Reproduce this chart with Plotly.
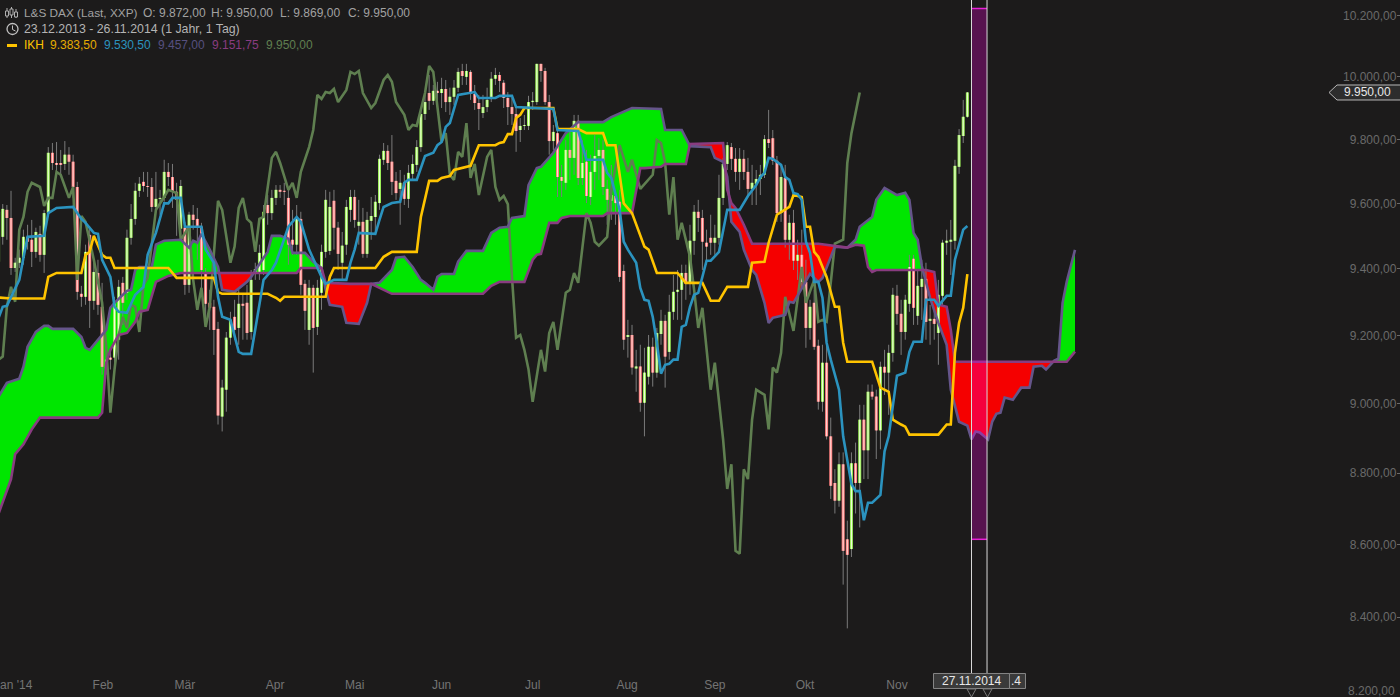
import numpy as np
import plotly.graph_objects as go

W, H = 1400, 697
OPEN = [9421,9497,9580,9555,9402,9418,9433,9497,9488,9451,
9506,9442,9570,9758,9726,9726,9723,9752,9730,9651,
9324,9315,9503,9303,9387,9285,9102,9134,9134,9187,
9357,9327,9494,9552,9639,9667,9654,9651,9589,9614,
9617,9698,9682,9636,9522,9525,9351,9565,9552,9528,
9384,9297,9285,9219,8962,9040,9193,9255,9222,9294,
9297,9210,9387,9390,9396,9595,9570,9617,9642,9639,
9617,9488,9473,9552,9354,9216,9342,9225,9327,9451,
9454,9608,9525,9418,9473,9580,9620,9531,9543,9445,
9546,9558,9601,9736,9764,9730,9670,9645,9664,9614,
9692,9720,9776,9881,9948,9923,9955,9948,9961,9919,
9936,9965,10019,10000,10016,9945,9916,9884,9903,9932,
9994,10006,9981,9932,9903,9881,9830,9843,9843,9919,
9919,10042,10019,9919,9795,9820,9682,9664,9767,9742,
9859,9679,9730,9620,9698,9748,9767,9645,9608,9623,
9605,9393,9195,9201,9102,9108,9002,9078,9166,9090,
9204,9243,9151,9270,9330,9336,9387,9357,9485,9574,
9555,9479,9494,9479,9494,9617,9723,9776,9739,9698,
9739,9698,9645,9661,9676,9689,9801,9804,9733,9570,
9679,9488,9540,9424,9442,9360,9222,9297,9169,9005,
9119,8905,8772,8722,8825,8614,8587,8828,8772,8953,
8865,9034,9020,8922,9107,9090,9148,9318,9264,9210,
9294,9430,9258,9345,9369,9243,9249,9207,9318,9479,
9482,9485,9714,9811,9872]
HIGH = [9595,9598,9595,9639,9433,9458,9519,9534,9549,9525,
9531,9580,9776,9789,9792,9767,9795,9776,9752,9667,
9348,9473,9528,9421,9427,9357,9157,9157,9315,9366,
9375,9519,9598,9664,9682,9698,9698,9679,9698,9642,
9736,9726,9723,9664,9673,9543,9574,9595,9586,9540,
9402,9336,9306,9240,9069,9210,9270,9306,9336,9321,
9351,9396,9418,9473,9595,9626,9642,9657,9657,9664,
9642,9580,9595,9574,9366,9366,9351,9366,9473,9642,
9636,9642,9543,9512,9611,9642,9642,9611,9586,9574,
9620,9626,9752,9789,9782,9814,9698,9704,9689,9720,
9752,9798,9900,9942,10006,9974,9984,9997,9990,9965,
9990,10029,10042,10042,10022,9974,9942,9942,9965,10016,
10029,10016,9990,9951,9932,9900,9868,9878,9939,9951,
10042,10042,10029,9942,9846,9846,9720,9798,9830,9878,
9878,9798,9767,9752,9814,9804,9798,9673,9720,9642,
9642,9412,9246,9231,9157,9172,9163,9201,9193,9222,
9276,9261,9321,9381,9396,9412,9412,9534,9595,9611,
9580,9519,9565,9534,9689,9742,9792,9789,9773,9773,
9767,9742,9720,9704,9720,9814,9894,9830,9748,9720,
9720,9565,9580,9488,9519,9427,9306,9336,9187,9172,
9187,8959,8811,8859,8859,8666,8859,8887,8996,8996,
9055,9055,9040,9122,9157,9172,9342,9351,9306,9321,
9442,9442,9396,9427,9418,9291,9276,9366,9488,9519,
9549,9736,9833,9926,9950]
LOW = [9396,9473,9488,9381,9390,9402,9412,9458,9405,9433,
9421,9387,9558,9704,9689,9689,9704,9689,9617,9306,
9285,9291,9222,9276,9261,9084,9084,9099,9113,9128,
9231,9306,9473,9534,9620,9636,9620,9574,9574,9565,
9605,9654,9586,9500,9503,9321,9327,9519,9427,9336,
9231,9216,9142,8939,8919,8976,9172,9187,9172,9187,
9187,9187,9366,9366,9381,9534,9549,9595,9617,9595,
9412,9442,9442,9321,9216,9172,9090,9201,9276,9433,
9442,9458,9396,9366,9442,9543,9525,9473,9433,9433,
9488,9512,9580,9720,9704,9626,9611,9534,9595,9586,
9673,9698,9761,9862,9894,9910,9910,9900,9887,9878,
9910,9951,9974,9974,9926,9894,9830,9868,9887,9919,
9974,9951,9900,9846,9846,9761,9792,9830,9830,9894,
9910,9984,9910,9752,9767,9620,9620,9642,9673,9689,
9657,9657,9601,9595,9642,9673,9626,9534,9549,9534,
9360,9157,9134,9084,9034,8976,8905,9055,9049,9075,
9172,9046,9128,9246,9246,9246,9306,9321,9442,9512,
9396,9412,9442,9442,9473,9595,9704,9704,9667,9642,
9673,9626,9595,9595,9626,9679,9773,9720,9543,9543,
9464,9427,9396,9366,9336,9163,9187,9157,8982,8976,
8896,8727,8686,8705,8489,8370,8565,8686,8647,8783,
8783,9011,8840,8868,9025,8967,9122,9231,9142,9187,
9270,9231,9231,9246,9187,9172,9187,9113,9291,9442,
9381,9458,9692,9789,9869]
CLOSE = [9574,9583,9555,9402,9418,9433,9497,9482,9451,9512,
9442,9570,9758,9726,9720,9720,9752,9730,9651,9330,
9315,9451,9303,9390,9291,9107,9128,9128,9297,9345,
9297,9494,9552,9639,9661,9654,9651,9589,9614,9617,
9698,9682,9636,9611,9654,9351,9565,9549,9528,9396,
9294,9282,9216,8965,9046,9193,9246,9216,9294,9288,
9207,9366,9399,9448,9574,9570,9617,9642,9636,9636,
9473,9473,9555,9351,9273,9342,9222,9342,9451,9611,
9589,9525,9445,9470,9589,9620,9549,9543,9445,9549,
9561,9605,9739,9764,9726,9667,9632,9664,9614,9695,
9723,9776,9881,9919,9923,9955,9948,9961,9919,9936,
9965,10016,10003,10019,9945,9916,9897,9903,9926,9994,
10006,9987,9932,9903,9881,9827,9843,9846,9919,9923,
10042,10019,9919,9795,9824,9682,9670,9767,9742,9859,
9679,9726,9623,9698,9748,9767,9651,9611,9626,9601,
9375,9187,9201,9105,9108,9002,9090,9166,9090,9207,
9243,9137,9270,9330,9336,9387,9354,9485,9574,9555,
9482,9467,9479,9494,9617,9723,9782,9739,9698,9739,
9698,9645,9664,9676,9689,9801,9789,9733,9570,9682,
9488,9540,9424,9442,9360,9222,9285,9166,9005,9119,
8905,8764,8722,8825,8582,8571,8828,8772,8953,8865,
9034,9020,8922,9107,9090,9148,9321,9264,9210,9306,
9405,9282,9348,9369,9240,9249,9234,9321,9479,9485,
9488,9717,9814,9872,9950]

TENKAN_BAR = [0,3,11,12,13,14,20,21,22,23,25,26,27,28,41,43,52,53,54,65,66,67,68,69,79,80,81,91,93,95,101,102,104,106,107,109,110,112,114,116,120,121,122,123,124,125,126,127,134,135,140,142,146,147,149,151,153,156,157,159,164,166,170,172,174,176,181,182,185,186,188,191,192,194,195,196,197,198,200,202,203,204,205,211,213,215,216,218,219,220,227,229,230,231,232,233,234]
TENKAN = [9313,9310,9310,9375,9381,9387,9387,9442,9451,9500,9442,9433,9433,9402,9402,9372,9372,9330,9324,9324,9318,9312,9303,9315,9315,9375,9402,9402,9436,9451,9451,9558,9670,9670,9679,9685,9704,9710,9717,9782,9782,9789,9792,9817,9817,9868,9878,9900,9900,9833,9833,9820,9820,9782,9782,9600,9570,9467,9458,9387,9387,9357,9357,9303,9303,9345,9345,9418,9421,9479,9565,9589,9626,9620,9528,9528,9451,9436,9375,9285,9285,9178,9122,9122,9046,9034,8953,8939,8933,8910,8910,8939,8939,9148,9237,9282,9383.5]

KIJUN_BAR = [0,1,2,3,5,6,7,11,12,14,18,20,21,23,24,25,27,28,29,31,33,35,36,38,40,41,42,44,45,49,50,52,53,54,56,58,59,61,62,64,66,67,70,72,73,75,78,79,81,84,85,86,87,91,92,93,95,97,98,99,101,103,105,106,107,108,109,111,115,116,120,121,124,125,134,135,140,142,146,147,148,150,151,152,154,155,156,157,158,159,160,161,162,163,164,165,166,167,168,169,171,172,174,176,179,181,183,184,185,186,187,189,190,191,192,193,194,195,196,197,198,199,200,201,203,204,206,207,208,209,210,211,213,214,215,217,219,220,221,223,224,226,227,229,230,231,233,234]
KIJUN = [9252,9285,9288,9315,9366,9433,9497,9500,9570,9586,9589,9552,9540,9509,9506,9427,9375,9285,9270,9267,9321,9345,9442,9509,9600,9600,9617,9617,9528,9528,9458,9418,9315,9255,9246,9151,9145,9145,9216,9366,9396,9418,9528,9558,9543,9458,9375,9354,9366,9366,9418,9458,9509,9506,9549,9589,9601,9605,9664,9673,9673,9748,9758,9782,9792,9840,9852,9942,9951,9932,9932,9939,9939,9903,9897,9830,9827,9736,9736,9695,9679,9580,9482,9458,9418,9342,9306,9303,9255,9178,9087,9113,9116,9128,9128,9225,9231,9285,9321,9327,9424,9424,9451,9580,9580,9623,9657,9682,9695,9742,9739,9720,9682,9673,9632,9629,9611,9482,9448,9360,9360,9312,9178,9128,9040,8905,8769,8749,8749,8667,8716,8716,8738,8862,8905,9081,9090,9151,9181,9181,9306,9306,9288,9318,9318,9427,9519,9530.5]

SPAN_A_BAR = [0,2,5,6,7,9,11,12,13,18,20,21,22,24,26,27,28,31,32,33,34,37,38,40,44,46,47,48,49,51,53,54,57,60,61,64,65,66,68,70,71,74,76,78,79,80,83,84,87,89,90,92,95,96,98,100,102,103,105,106,107,110,111,113,117,119,121,123,124,127,128,130,131,134,137,140,146,148,153,160,161,165,167,172,173,175,176,177,179,180,182,183,185,186,187,190,191,192,194,196,198,199,202,205,207,208,211,212,214,216,217,219,220,221,222,223,224,225,227,229,230,232,234,235,236,237,239,240,241,242,243,245,247,249,250,252,253,255,256,257,258,260]
SPAN_A = [9020,9060,9072,9107,9166,9210,9228,9228,9219,9219,9195,9163,9157,9187,9216,9282,9297,9333,9336,9396,9405,9405,9473,9485,9488,9464,9485,9479,9506,9458,9405,9336,9330,9360,9375,9433,9451,9500,9500,9491,9448,9448,9421,9402,9336,9291,9285,9237,9234,9297,9354,9357,9396,9433,9436,9405,9366,9357,9336,9375,9384,9384,9421,9454,9454,9509,9525,9528,9555,9561,9657,9710,9714,9758,9820,9855,9855,9871,9900,9897,9830,9830,9779,9776,9742,9730,9682,9543,9512,9458,9396,9381,9297,9237,9252,9261,9300,9297,9339,9384,9360,9372,9467,9464,9488,9528,9558,9611,9648,9633,9626,9633,9611,9509,9488,9408,9360,9312,9237,9172,9040,8947,8936,8896,8919,8916,8896,8947,8970,8973,9017,9011,9046,9046,9107,9110,9099,9125,9131,9297,9360,9457]

SPAN_B_BAR = [0,3,4,6,8,10,24,25,26,27,29,31,33,34,36,37,38,40,41,44,72,73,78,79,85,90,95,117,119,121,127,129,130,131,133,135,136,138,146,147,153,155,156,160,161,166,167,175,176,177,178,180,182,198,205,207,209,210,211,212,224,226,227,229,230,231,258,260]
SPAN_B = [8686,8783,8854,8882,8925,8959,8959,8973,9119,9157,9201,9207,9240,9270,9276,9315,9360,9372,9378,9387,9387,9402,9402,9357,9354,9354,9324,9324,9348,9360,9360,9427,9442,9445,9540,9540,9555,9561,9561,9570,9570,9710,9710,9714,9723,9723,9786,9789,9642,9601,9586,9534,9476,9476,9464,9473,9470,9405,9390,9396,9396,9390,9291,9285,9216,9122,9122,9151.75]

CHIKOU_BAR = [0,1,2,3,4,5,6,7,8,10,11,12,13,14,15,17,18,19,20,21,23,25,26,27,28,29,30,31,32,33,34,35,36,38,40,41,43,44,46,47,48,49,50,51,53,54,56,57,58,59,60,61,62,63,64,66,67,68,70,71,72,73,75,76,77,78,79,80,81,82,84,85,86,87,88,90,91,93,94,95,96,98,99,100,101,103,104,105,107,108,109,110,111,112,113,114,115,116,118,119,120,121,122,123,124,125,126,127,128,129,131,132,133,134,135,137,138,139,140,142,143,144,145,147,148,150,152,153,155,158,159,160,161,162,163,164,165,167,168,169,170,171,172,173,174,175,176,177,178,179,180,181,182,183,185,186,187,188,189,190,192,194,195,197,198,199,200,202,204,205,206,208]
CHIKOU = [9128,9137,9285,9345,9300,9519,9558,9636,9664,9651,9592,9617,9617,9698,9689,9617,9651,9366,9561,9543,9427,9297,9166,8973,9099,9201,9255,9222,9291,9285,9210,9351,9372,9580,9620,9642,9632,9488,9528,9366,9276,9342,9225,9285,9608,9580,9418,9467,9586,9617,9552,9540,9451,9552,9558,9742,9761,9726,9642,9664,9617,9698,9776,9830,9942,9929,9951,9948,9961,9919,9958,10016,10009,10019,9948,9900,9916,9990,10006,9984,9919,9878,9830,9846,9843,9948,10035,10016,9792,9820,9689,9673,9761,9745,9852,9679,9723,9626,9745,9767,9651,9611,9623,9598,9375,9193,9201,9157,9099,9005,9157,9093,9207,9240,9157,9327,9336,9387,9357,9570,9540,9482,9470,9497,9642,9782,9698,9736,9645,9689,9798,9789,9726,9565,9682,9488,9540,9436,9336,9222,9282,9166,9040,9119,9011,8896,8755,8825,8582,8574,8811,8783,8953,9040,9025,8925,9105,9090,9148,9315,9213,9405,9297,9366,9240,9246,9240,9476,9488,9726,9820,9950]

MONTH_BARS = [25.2, 45, 66.8, 86, 107, 129, 151.8, 173, 194.8, 217]
MONTH_LABELS = ["Feb", "Mär", "Apr", "Mai", "Jun", "Jul", "Aug", "Sep", "Okt", "Nov"]
PRICE_TICKS = [8400, 8600, 8800, 9000, 9200, 9400, 9600, 9800, 10000, 10200]
PRICE_LABELS = ["8.400,00", "8.600,00", "8.800,00", "9.000,00", "9.200,00", "9.400,00", "9.600,00", "9.800,00", "10.000,00", "10.200,00"]
SELECT_BARS = [235.0, 238.75]
SELECT_PRICES = [8614, 10223]

BG = "#1c1b1b"
FONT = "Liberation Sans"
PX_PER_BAR = 4.14
X_RANGE = [1.4 / PX_PER_BAR, (W + 1.4) / PX_PER_BAR]
Y_RANGE = [3.91311, 4.01077]


def px(x):
    return x / W


def py(y):
    return 1 - y / H


def segs(xs, y0, y1):
    ox, oy = [], []
    for x, a, b in zip(xs, y0, y1):
        ox += [x, x, None]
        oy += [a, b, None]
    return ox, oy


fig = go.Figure()

# Cloud fill
grid = np.arange(0, 260.01, 0.25)
a_line = np.interp(grid, SPAN_A_BAR, SPAN_A)
b_line = np.interp(grid, SPAN_B_BAR, SPAN_B)
upper = np.maximum(a_line, b_line)
for lower, colour in ((b_line, "#00e600"), (a_line, "#f50000")):
    fig.add_trace(go.Scatter(x=grid, y=lower, mode="lines", line=dict(width=0, color=BG), hoverinfo="skip", showlegend=False))
    fig.add_trace(go.Scatter(x=grid, y=upper, mode="lines", line=dict(width=0, color=colour), fill="tonexty", fillcolor=colour, hoverinfo="skip", showlegend=False))

# Candles
bars = list(range(len(OPEN)))
wx, wy = segs(bars, LOW, HIGH)
fig.add_trace(go.Scatter(x=wx, y=wy, mode="lines", line=dict(width=1, color="#7b7b7b"), hoverinfo="skip", showlegend=False))
up = [i for i in bars if CLOSE[i] >= OPEN[i]]
dn = [i for i in bars if CLOSE[i] < OPEN[i]]
for ids, edge, core in ((up, "#9cee58", "#f0ffe0"), (dn, "#ff8080", "#ffdcd8")):
    bx, by = segs(ids, [OPEN[i] for i in ids], [CLOSE[i] for i in ids])
    fig.add_trace(go.Scatter(x=bx, y=by, mode="lines", line=dict(width=3, color=edge), hoverinfo="skip", showlegend=False))
    fig.add_trace(go.Scatter(x=bx, y=by, mode="lines", line=dict(width=1, color=core), hoverinfo="skip", showlegend=False))

# Ichimoku lines
for xs, ys, colour, name in (
    (CHIKOU_BAR, CHIKOU, "#5f7f50", "Chikou"),
    (SPAN_A_BAR, SPAN_A, "#65558a", "Senkou A"),
    (SPAN_B_BAR, SPAN_B, "#893c80", "Senkou B"),
    (TENKAN_BAR, TENKAN, "#ffc400", "Tenkan"),
    (KIJUN_BAR, KIJUN, "#2b93bf", "Kijun"),
):
    fig.add_trace(go.Scatter(x=xs, y=ys, mode="lines", name=name, line=dict(width=2.6, color=colour), showlegend=False, hoverinfo="skip"))

shapes = [
    dict(type="rect", xref="x", yref="y", x0=SELECT_BARS[0], x1=SELECT_BARS[1], y0=SELECT_PRICES[0], y1=SELECT_PRICES[1],
         fillcolor="rgba(248,0,220,0.27)", line=dict(width=0), layer="above"),
    dict(type="line", xref="x", yref="y", x0=SELECT_BARS[0], x1=SELECT_BARS[1], y0=SELECT_PRICES[0], y1=SELECT_PRICES[0],
         line=dict(width=1.5, color="#e81fd8"), layer="above"),
    dict(type="line", xref="x", yref="y", x0=SELECT_BARS[0], x1=SELECT_BARS[1], y0=SELECT_PRICES[1], y1=SELECT_PRICES[1],
         line=dict(width=1.5, color="#e81fd8"), layer="above"),
]
for b in SELECT_BARS:
    shapes.append(dict(type="line", xref="x", yref="paper", x0=b, x1=b, y0=py(673), y1=1,
                       line=dict(width=1, color="#d8d8d8"), layer="above"))


def poly(points, fill, line, width=1):
    path = "M " + " L ".join(f"{px(x):.5f} {py(y):.5f}" for x, y in points) + " Z"
    return dict(type="path", xref="paper", yref="paper", path=path, fillcolor=fill, line=dict(color=line, width=width), layer="above")


def seg(x0, y0, x1, y1, colour, width=1):
    return dict(type="line", xref="paper", yref="paper", x0=px(x0), y0=py(y0), x1=px(x1), y1=py(y1),
                line=dict(color=colour, width=width), layer="above")


# Price tag
shapes.append(poly([(1329, 92.5), (1337, 85), (1401, 85), (1401, 100), (1337, 100)], "#2d2d2d", "#b8b8b8"))
# Date boxes
shapes.append(poly([(933.5, 673.5), (1009.5, 673.5), (1009.5, 688.5), (933.5, 688.5)], "#3a3a3a", "#858585"))
shapes.append(poly([(1009.5, 673.5), (1025.5, 673.5), (1025.5, 688.5), (1009.5, 688.5)], "#3a3a3a", "#858585"))
for cx in (971.5, 987.5):
    shapes.append(poly([(cx - 4.5, 689), (cx + 4.5, 689), (cx, 697)], BG, "#777777"))
# Header icons
for x0, y0, y1, t0, t1 in ((7, 8, 18, 11, 16), (11.5, 7, 18, 9, 15), (16, 9, 18, 12, 17)):
    shapes.append(seg(x0, y0, x0, y1, "#b0b0b0"))
    shapes.append(poly([(x0 - 1.5, t0), (x0 + 1.5, t0), (x0 + 1.5, t1), (x0 - 1.5, t1)], BG, "#b0b0b0"))
shapes.append(dict(type="circle", xref="paper", yref="paper", x0=px(7), x1=px(18), y0=py(34.5), y1=py(23.5),
                   line=dict(color="#c0c0c0", width=1.3), fillcolor="rgba(0,0,0,0)", layer="above"))
shapes.append(seg(12.5, 25.5, 12.5, 29.5, "#c0c0c0"))
shapes.append(seg(12.5, 29.5, 15.5, 31, "#c0c0c0"))
shapes.append(seg(7, 45.5, 17, 45.5, "#ffc400", 3))

ann = []


def text(x, y, s, colour, size=12, anchor="left"):
    ann.append(dict(xref="paper", yref="paper", x=px(x), y=py(y), text=s, showarrow=False, xanchor=anchor, yanchor="middle",
                    font=dict(family=FONT, size=size, color=colour)))


grey = "#a2a2a2"
text(21.5, 12.5, "L&S DAX (Last, XXP)", grey, size=11.8)
text(140.5, 12.5, "O: 9.872,00", grey)
text(208.5, 12.5, "H: 9.950,00", grey)
text(277.5, 12.5, "L: 9.869,00", grey)
text(345.5, 12.5, "C: 9.950,00", grey)
text(21.5, 29, "23.12.2013 - 26.11.2014 (1 Jahr, 1 Tag)", "#b4b4b4", size=12.35)
text(21.5, 45, "IKH", "#ffc400")
text(47.5, 45, "9.383,50", "#e6ac00")
text(101.5, 45, "9.530,50", "#2b93bf")
text(155.5, 45, "9.457,00", "#565080")
text(209.5, 45, "9.151,75", "#893c80")
text(263.5, 45, "9.950,00", "#5f7f50")
text(1367, 92.5, "9.950,00", "#e8e8e8", anchor="center")
text(971.5, 681, "27.11.2014", "#e8e8e8", anchor="center")
text(1016, 681, ".4", "#e8e8e8", anchor="center")
text(13, 684.5, "Jan '14", "#747474", anchor="center")
text(1397, 691, "8.200,00", "#6a6a6a", anchor="right")

fig.update_layout(
    width=W, height=H, margin=dict(l=0, r=0, t=0, b=0), autosize=False,
    paper_bgcolor=BG, plot_bgcolor=BG, showlegend=False,
    font=dict(family=FONT, size=12, color="#6f6f6f"),
    shapes=shapes, annotations=ann,
    xaxis=dict(range=X_RANGE, showgrid=False, zeroline=False, showline=False,
               tickmode="array", tickvals=MONTH_BARS, ticktext=MONTH_LABELS, ticks="",
               ticklabelposition="inside", ticklabelstandoff=3, tickfont=dict(family=FONT, size=12, color="#747474")),
    yaxis=dict(type="log", range=Y_RANGE, side="right", showgrid=False, zeroline=False, showline=False,
               tickmode="array", tickvals=PRICE_TICKS, ticktext=PRICE_LABELS, ticks="inside", ticklen=3, tickcolor="#6a6a6a",
               ticklabelposition="inside", tickfont=dict(family=FONT, size=12, color="#6a6a6a")),
)
fig.write_html("out.html", config={"displayModeBar": False},
               post_script="document.documentElement.style.margin='0';document.body.style.margin='0';document.body.style.background='" + BG + "';document.body.style.overflow='hidden';")
